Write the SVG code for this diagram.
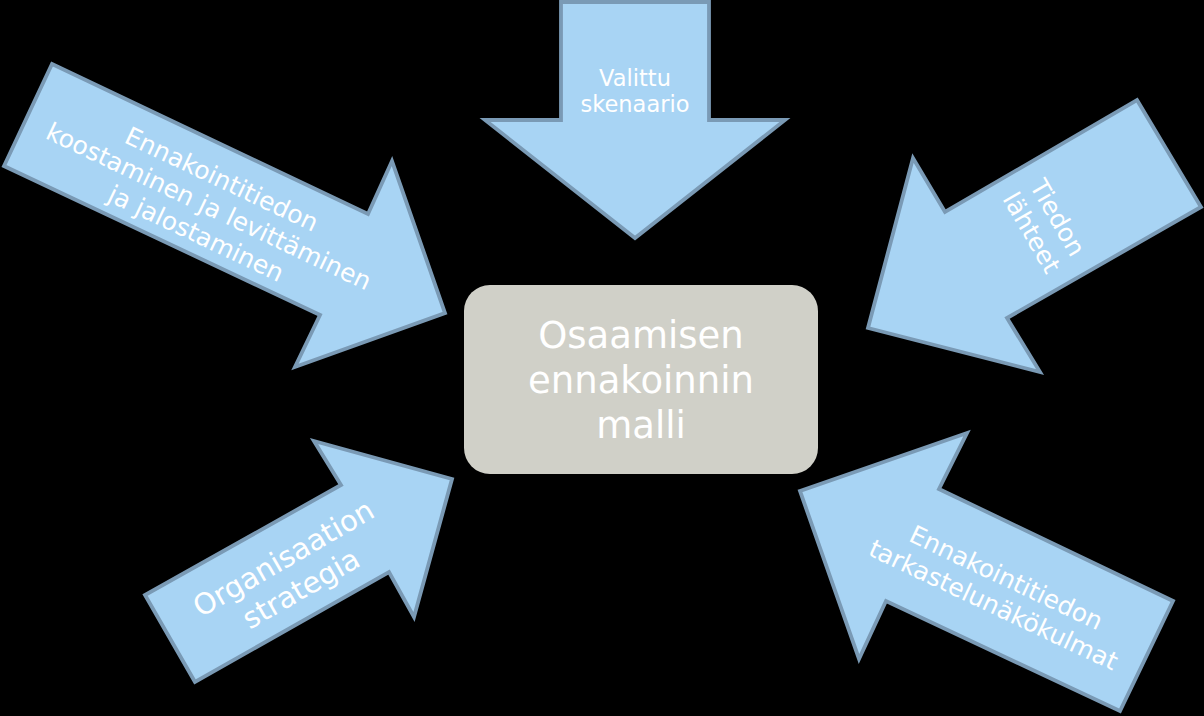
<svg xmlns="http://www.w3.org/2000/svg" width="1204" height="716" viewBox="0 0 1204 716">
<style>
.arrow{fill:#a8d4f4;stroke:#7a9ab5;stroke-width:3.8;stroke-linejoin:miter}
.lbl{fill:#ffffff;font-family:"DejaVu Sans","Verdana",sans-serif;text-anchor:middle}
</style>
<rect x="0" y="0" width="1204" height="716" fill="#000000"/>
<g id="connectors"/>
<g id="arrow-top">
<polygon class="arrow" points="561,2 709,2 709,120 785,120 635,238 485,120 561,120"/>
<text class="lbl" font-size="22.5"><tspan x="635" y="86">Valittu</tspan><tspan x="635" y="112">skenaario</tspan></text>
</g>
<g id="arrow-left-top">
<polygon class="arrow" points="52,64 368,214 392,161 445,313 295,367 320,315 4,166"/>
<text class="lbl" font-size="25" transform="translate(209,206) rotate(25.4)"><tspan x="0" y="-21">Ennakointitiedon</tspan><tspan x="0" y="9">koostaminen ja levittäminen</tspan><tspan x="0" y="39">ja jalostaminen</tspan></text>
</g>
<g id="arrow-right-top">
<polygon class="arrow" points="1137,100 1201,207 1007,318 1040,372 868,328 913,158 945,212"/>
<text class="lbl" font-size="25" transform="translate(1045,225) rotate(60)"><tspan x="0" y="-6">Tiedon</tspan><tspan x="0" y="24">lähteet</tspan></text>
</g>
<g id="arrow-left-bottom">
<polygon class="arrow" points="195,682 145,595 341,485 314,441 452,479 414,617 389,572"/>
<text class="lbl" font-size="29" transform="translate(292,573) rotate(-30)"><tspan x="0" y="-7">Organisaation</tspan><tspan x="0" y="28">strategia</tspan></text>
</g>
<g id="arrow-right-bottom">
<polygon class="arrow" points="800,491 967,433 939,489 1173,601 1120,711 886,601 859,659"/>
<text class="lbl" font-size="25" transform="translate(1000,591) rotate(25.3)"><tspan x="0" y="-6">Ennakointitiedon</tspan><tspan x="0" y="24">tarkastelunäkökulmat</tspan></text>
</g>
<g id="center">
<rect x="464" y="285" width="354" height="189" rx="26" ry="26" fill="#d0d0c8"/>
<text class="lbl" font-size="37"><tspan x="641" y="348">Osaamisen</tspan><tspan x="641" y="393">ennakoinnin</tspan><tspan x="641" y="438">malli</tspan></text>
</g>
</svg>
